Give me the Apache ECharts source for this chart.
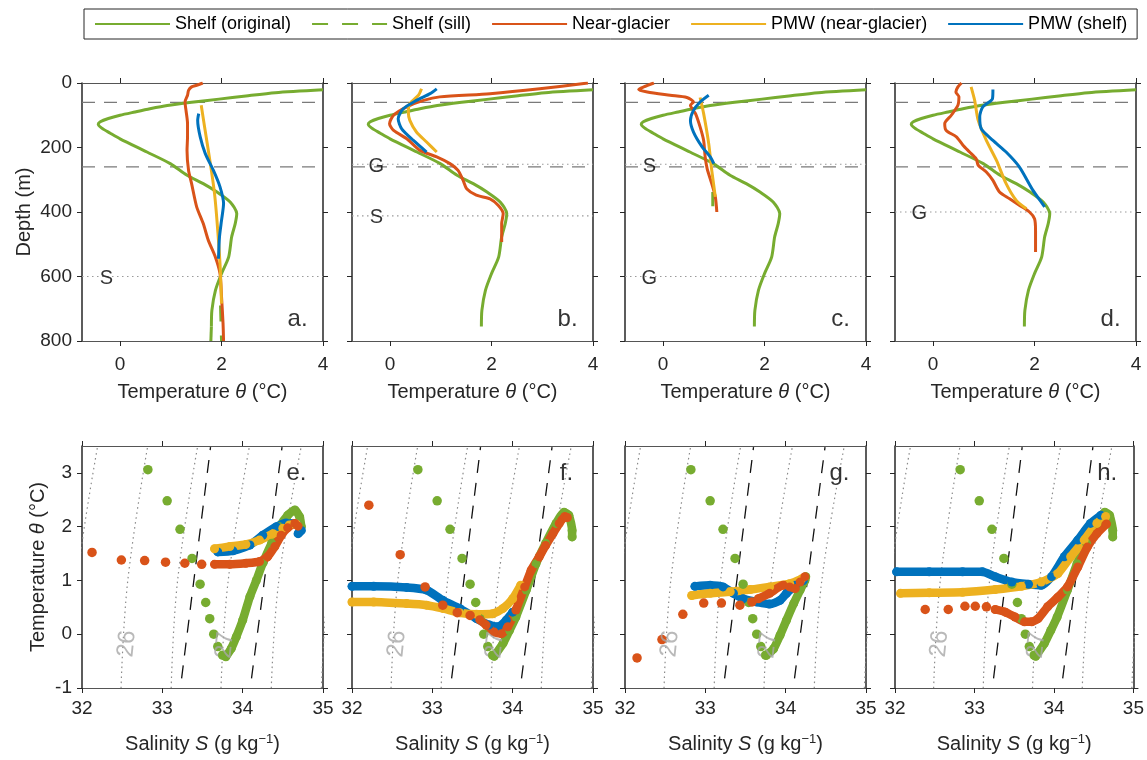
<!DOCTYPE html>
<html><head><meta charset="utf-8">
<script src="https://cdn.jsdelivr.net/npm/echarts@6/dist/echarts.min.js"></script>
<style>html,body{margin:0;padding:0;background:#fff}#c{width:1147px;height:760px}</style>
</head><body><div id="c"></div>
<script>
// ---------------- DATA ----------------
const seriesNames = ['Shelf (original)','Shelf (sill)','Near-glacier','PMW (near-glacier)','PMW (shelf)'];
const tempTicks = [0, 2, 4];
const depthTicks = [0, 200, 400, 600, 800];
const salTicks = [32, 33, 34, 35];
const thetaTicks = [-1, 0, 1, 2, 3];
const panelLettersTop = ['a.', 'b.', 'c.', 'd.'];
const panelLettersBottom = ['e.', 'f.', 'g.', 'h.'];

// Profiles: [temperature °C, depth m]
const shelfOrig = [[4.0,21],[3.06,30],[2.48,40],[1.95,50],[1.41,60],[0.93,70],[0.59,80],[0.29,90],[0.0,100],[-0.23,110],[-0.39,120],[-0.43,128],[-0.36,140],[-0.2,155],[0,173],[0.53,214],[0.99,250],[1.32,286],[1.64,312],[1.91,338],[2.17,369],[2.30,405],[2.27,436],[2.20,477],[2.14,540],[2.0,591],[1.88,643],[1.81,705],[1.80,755]];
const shelfDeepA = [[1.80,755],[1.79,800]];
const sillA = [[1.98,690],[2.0,800]];
const sillC = [[0.98,338],[0.98,382]];

const nearGlacierA = [[1.63,0],[1.51,7],[1.41,12],[1.35,23],[1.33,38],[1.28,59],[1.30,85],[1.33,126],[1.33,167],[1.32,209],[1.35,271],[1.41,312],[1.51,384],[1.64,436],[1.74,488],[1.88,540],[1.97,591],[2.0,663],[2.03,746],[2.04,800]];
const pmwNearA = [[1.6,69],[1.66,130],[1.78,250],[1.86,340],[1.91,426],[1.97,560],[2.0,684]];
const pmwShelfA = [[1.55,95],[1.53,116],[1.58,167],[1.68,219],[1.84,271],[1.97,322],[2.04,374],[2.0,426],[1.96,477],[1.94,545]];

const nearGlacierB = [[3.9,0],[2.95,18],[1.97,33],[0.98,43],[0.66,54],[0.33,74],[0.07,100],[-0.01,126],[0.07,147],[0.33,173],[0.59,209],[0.92,229],[1.18,250],[1.34,271],[1.44,302],[1.51,328],[1.7,348],[1.97,359],[2.13,379],[2.23,405],[2.2,436],[2.2,493]];
const pmwNearB = [[0.62,18],[0.56,38],[0.39,64],[0.36,90],[0.39,116],[0.52,152],[0.72,183],[0.92,214]];
const pmwShelfB = [[0.92,18],[0.79,33],[0.52,54],[0.26,80],[0.16,111],[0.23,142],[0.46,178],[0.72,214]];

const nearGlacierC = [[-0.18,0],[-0.38,12],[-0.48,20],[-0.31,28],[0.14,38],[0.47,45],[0.6,59],[0.54,69],[0.64,95],[0.73,136],[0.8,178],[0.83,229],[0.87,266],[0.96,312],[1.03,353],[1.06,400]];
const pmwNearC = [[0.73,45],[0.8,95],[0.9,188],[0.96,271],[1.03,353]];
const pmwShelfC = [[0.9,38],[0.73,59],[0.6,85],[0.54,116],[0.6,152],[0.77,198],[0.93,229],[1.0,250]];

const nearGlacierD = [[0.56,0],[0.49,12],[0.45,28],[0.51,43],[0.49,69],[0.36,100],[0.23,126],[0.26,147],[0.46,167],[0.59,193],[0.72,214],[0.85,235],[0.89,255],[1.05,276],[1.18,302],[1.31,338],[1.51,359],[1.7,379],[1.9,400],[2.0,421],[2.02,457],[2.02,524]];
const pmwNearD = [[0.75,12],[0.82,54],[0.89,116],[1.05,178],[1.25,240],[1.44,312],[1.64,364],[1.84,390]];
const pmwShelfD = [[1.18,20],[1.17,49],[0.98,74],[0.92,105],[0.95,142],[1.18,178],[1.44,214],[1.7,260],[1.97,333],[2.2,384]];

// reference depths (m)
const layerDepths = [60, 260];
const sillDepths = [600, 412, 252, null];      // "S"
const glacierDepths = [null, 252, 600, 400];   // "G"

// T-S: [salinity g/kg, temperature °C]
const shelfTSDots = [[32.82,3.06],[33.06,2.48],[33.22,1.95],[33.37,1.41],[33.47,0.93],[33.54,0.59],[33.59,0.29],[33.64,0.0],[33.69,-0.23],[33.75,-0.39]];
const shelfTSRunE = [[33.79,-0.42],[33.86,-0.26],[33.92,-0.05],[34.0,0.26],[34.09,0.70],[34.17,1.0],[34.25,1.32],[34.36,1.69],[34.46,2.0],[34.56,2.21],[34.65,2.31],[34.71,2.18],[34.73,2.0]];
const shelfTSRunFH = [[33.77,-0.41],[33.88,-0.17],[33.96,0.07],[34.04,0.32],[34.17,0.82],[34.29,1.31],[34.41,1.69],[34.54,2.06],[34.64,2.27],[34.70,2.21],[34.74,1.93],[34.74,1.81]];
const shelfTSRunG = [[33.76,-0.39],[33.85,-0.27],[33.93,-0.02],[34.01,0.26],[34.10,0.57],[34.18,0.82],[34.24,1.0],[34.25,1.07]];

const nearTSDotsE = [[32.125,1.52],[32.49,1.38],[32.78,1.37],[33.04,1.34],[33.28,1.32],[33.49,1.30]];
const nearTSRunE = [[33.65,1.30],[33.84,1.30],[34.04,1.32],[34.21,1.35],[34.31,1.44],[34.40,1.63],[34.48,1.84],[34.56,1.98],[34.65,2.06],[34.69,2.01]];
const pmwNearTSE = [[33.65,1.59],[33.84,1.63],[34.04,1.67],[34.21,1.75],[34.38,1.87],[34.5,1.97],[34.58,2.03],[34.67,2.05]];
const pmwShelfTSE = [[33.69,1.53],[33.88,1.55],[34.09,1.66],[34.25,1.84],[34.42,2.0],[34.54,2.07],[34.67,2.05],[34.73,1.93],[34.69,1.87]];

const nearTSDotsF = [[32.21,2.40],[32.6,1.48],[32.91,0.88],[33.13,0.54],[33.31,0.40],[33.47,0.35]];
const nearTSRunF = [[33.59,0.27],[33.67,0.17],[33.77,0.04],[33.86,0.01],[33.94,0.14],[34.04,0.45],[34.15,0.88],[34.23,1.19],[34.33,1.44],[34.41,1.65],[34.50,1.87],[34.58,2.06],[34.65,2.19],[34.68,2.17]];
const pmwNearTSF = [[32.0,0.60],[32.27,0.60],[32.68,0.57],[32.93,0.54],[33.13,0.48],[33.34,0.40],[33.55,0.37],[33.75,0.38],[33.88,0.48],[34.0,0.66],[34.1,0.91]];
const pmwShelfTSF = [[32.0,0.89],[32.27,0.89],[32.68,0.87],[32.93,0.82],[33.13,0.63],[33.34,0.48],[33.55,0.29],[33.71,0.17],[33.82,0.14],[33.92,0.26],[34.0,0.41]];

const nearTSDotsG = [[32.15,-0.44],[32.46,-0.10],[32.72,0.37],[32.98,0.58],[33.2,0.58],[33.43,0.54],[33.58,0.60]];
const nearTSRunG = [[33.66,0.66],[33.80,0.76],[33.97,0.91],[34.05,0.88],[34.12,0.85],[34.18,0.97],[34.24,1.07]];
const pmwNearTSG = [[32.83,0.72],[33.06,0.76],[33.31,0.79],[33.56,0.83],[33.80,0.88],[34.05,0.94],[34.2,1.03]];
const pmwShelfTSG = [[32.87,0.89],[33.06,0.91],[33.22,0.88],[33.35,0.76],[33.47,0.66],[33.64,0.6],[33.80,0.56],[33.93,0.63],[34.01,0.76],[34.12,0.91],[34.22,1.0]];

const nearTSDotsH = [[32.38,0.46],[32.67,0.46],[32.88,0.52],[33.01,0.52],[33.15,0.51]];
const nearTSRunH = [[33.26,0.46],[33.39,0.41],[33.51,0.32],[33.63,0.23],[33.72,0.23],[33.80,0.29],[33.92,0.51],[34.05,0.69],[34.17,0.88],[34.30,1.25],[34.42,1.62],[34.54,1.87],[34.66,2.05]];
const pmwNearTSH = [[32.07,0.76],[32.43,0.77],[32.85,0.78],[33.26,0.83],[33.59,0.89],[33.84,0.97],[34.05,1.13],[34.21,1.44],[34.38,1.75],[34.54,2.06],[34.65,2.19]];
const pmwShelfTSH = [[32.02,1.16],[32.43,1.16],[32.85,1.16],[33.1,1.16],[33.26,1.07],[33.47,0.97],[33.68,0.93],[33.84,0.91],[33.97,1.07],[34.13,1.44],[34.30,1.75],[34.46,2.06],[34.59,2.21]];

// isopycnals (sigma 25.5 ... 28)
const isoLabels = ['26', '27'];
const isoLines = [
  [[31.86,-1],[31.94,1],[32.195,3.5]],
  [[32.486,-1],[32.57,1],[32.818,3.5]],
  [[33.11,-1],[33.19,1],[33.44,3.5]],
  [[33.73,-1],[33.82,1],[34.085,3.5]],
  [[34.356,-1],[34.45,1],[34.73,3.5]],
  [[34.98,-1],[35.07,1],[35.33,3.5]]
];
// meltwater mixing lines (dashed)
const gadeLines = [[[33.24,-0.82],[33.60,3.48]], [[34.11,-0.82],[34.49,3.48]]];

// ---------------- BUILD ----------------
const FONT = '"Liberation Sans", Arial, Helvetica, sans-serif';
const TXT = '#262626';
const COL = {shelf:'#77AC30', near:'#D95319', pmwNear:'#EDB120', pmwShelf:'#0072BD'};
const grids = [], xAxis = [], yAxis = [], series = [];
const W = 241, lefts = [82, 352, 625, 895];

const nameRich = {
  a: {fontSize: 20, fontFamily: FONT, color: TXT},
  i: {fontSize: 20, fontFamily: FONT, color: TXT, fontStyle: 'italic'},
  s: {fontSize: 13, fontFamily: FONT, color: TXT, padding: [0, 0, 10, 0]}
};
const nameStyle = {color: TXT, fontSize: 20, fontFamily: FONT, rich: nameRich};

function addPanel(gi, left, top, height, o) {
  grids.push({left: left, top: top, width: W, height: height});
  const xb = {type: 'value', gridIndex: gi, min: o.xmin, max: o.xmax, splitLine: {show: false},
    axisLine: {show: true, onZero: false, lineStyle: {color: '#555', width: 1}},
    axisTick: {show: true, inside: false, length: 5, customValues: o.xticks, lineStyle: {color: TXT, width: 1}}};
  xAxis.push(Object.assign({}, xb, {position: 'bottom',
    axisLabel: {show: true, customValues: o.xticks, margin: o.xmargin, color: TXT, fontSize: 19, fontFamily: FONT},
    name: o.xname, nameLocation: 'middle', nameGap: o.xgap, nameTextStyle: nameStyle}));
  xAxis.push(Object.assign({}, xb, {position: 'top', axisLabel: {show: false}}));
  const yb = {type: 'value', gridIndex: gi, min: o.ymin, max: o.ymax, inverse: o.inverse, splitLine: {show: false},
    axisLine: {show: true, onZero: false, lineStyle: {color: TXT, width: 1.5}},
    axisTick: {show: true, inside: false, length: 5, customValues: o.yticks, lineStyle: {color: TXT, width: 1}}};
  yAxis.push(Object.assign({}, yb, {position: 'left',
    axisLabel: {show: o.showY, customValues: o.yticks, margin: 10, color: TXT, fontSize: 19, fontFamily: FONT},
    name: o.showY ? o.yname : '', nameLocation: 'middle', nameGap: o.ygap, nameTextStyle: nameStyle}));
  yAxis.push(Object.assign({}, yb, {position: 'right', axisLabel: {show: false}}));
}

function S(gi, extra) { return Object.assign({xAxisIndex: 2*gi, yAxisIndex: 2*gi, animation: false, silent: true}, extra); }
function refLine(gi, data, color, width, type, z, smooth) {
  series.push(S(gi, {type: 'line', data: data, symbol: 'none', z: z || 1, smooth: smooth || false,
    lineStyle: {color: color, width: width, type: type}}));
}
function prof(gi, name, data, color, dashed) {
  series.push(S(gi, {type: 'line', name: name, data: data, symbol: 'none', z: 3, smooth: 0.25,
    itemStyle: {color: color},
    lineStyle: {color: color, width: 3, type: dashed ? [16, 14] : 'solid', cap: 'butt', join: 'round'}}));
}
function run(gi, name, data, color) {
  series.push(S(gi, {type: 'line', name: name, data: data, symbol: 'circle', symbolSize: 9, showAllSymbol: true, smooth: 0.2, z: 4,
    itemStyle: {color: color}, lineStyle: {color: color, width: 8.5, cap: 'round', join: 'round'}}));
}
function dots(gi, name, data, color) {
  series.push(S(gi, {type: 'scatter', name: name, data: data, symbol: 'circle', symbolSize: 9.5, z: 4, itemStyle: {color: color, opacity: 1}}));
}
function texts(gi, items, style) {
  series.push(S(gi, {type: 'scatter', symbol: 'circle', symbolSize: 2, itemStyle: {color: 'rgba(0,0,0,0)'}, z: 20, zlevel: 1,
    labelLayout: {hideOverlap: false},
    data: items.map(t => ({value: [t[0], t[1]], label: Object.assign({show: true, position: 'inside', formatter: t[2]}, style)}))}));
}

// top panels
const tempName = '{a|Temperature }{i|θ}{a| (°C)}';
const topData = [
  {near: nearGlacierA, pn: pmwNearA, ps: pmwShelfA, sill: sillA},
  {near: nearGlacierB, pn: pmwNearB, ps: pmwShelfB, sill: null},
  {near: nearGlacierC, pn: pmwNearC, ps: pmwShelfC, sill: sillC},
  {near: nearGlacierD, pn: pmwNearD, ps: pmwShelfD, sill: null}
];
for (let i = 0; i < 4; i++) {
  addPanel(i, lefts[i], 83, 258, {xmin: -0.75, xmax: 4, xticks: tempTicks, xmargin: 14, xname: tempName, xgap: 41,
    ymin: 0, ymax: 800, inverse: true, yticks: depthTicks, showY: i === 0, yname: '{a|Depth (m)}', ygap: 48});
  layerDepths.forEach(d => refLine(i, [[-0.75, d], [4, d]], '#7a7a7a', 1.2, [13, 9], 1));
  const marks = [];
  if (sillDepths[i] !== null) { refLine(i, [[-0.75, sillDepths[i]], [4, sillDepths[i]]], '#9a9a9a', 1.2, [1.5, 3.5], 1); marks.push([-0.27, sillDepths[i] + 6, 'S']); }
  if (glacierDepths[i] !== null) { refLine(i, [[-0.75, glacierDepths[i]], [4, glacierDepths[i]]], '#9a9a9a', 1.2, [1.5, 3.5], 1); marks.push([-0.27, glacierDepths[i] + 6, 'G']); }
  const td = topData[i];
  prof(i, seriesNames[0], shelfOrig, COL.shelf, false);
  if (i === 0) prof(i, seriesNames[0], shelfDeepA, COL.shelf, false);
  if (td.sill) prof(i, seriesNames[1], td.sill, COL.shelf, true);
  prof(i, seriesNames[2], td.near, COL.near, false);
  prof(i, seriesNames[3], td.pn, COL.pmwNear, false);
  prof(i, seriesNames[4], td.ps, COL.pmwShelf, false);
  texts(i, marks, {fontSize: 20, fontFamily: FONT, color: '#000'});
  texts(i, [[3.5, 732, panelLettersTop[i]]], {fontSize: 24, fontFamily: FONT, color: '#000'});
}

// bottom panels
const salName = '{a|Salinity }{i|S}{a| (g kg}{s|−1}{a|)}';
const tsData = [
  {green: shelfTSRunE, nd: nearTSDotsE, nr: nearTSRunE, pn: pmwNearTSE, ps: pmwShelfTSE},
  {green: shelfTSRunFH, nd: nearTSDotsF, nr: nearTSRunF, pn: pmwNearTSF, ps: pmwShelfTSF},
  {green: shelfTSRunG, nd: nearTSDotsG, nr: nearTSRunG, pn: pmwNearTSG, ps: pmwShelfTSG},
  {green: shelfTSRunFH, nd: nearTSDotsH, nr: nearTSRunH, pn: pmwNearTSH, ps: pmwShelfTSH}
];
for (let i = 0; i < 4; i++) {
  const gi = 4 + i;
  addPanel(gi, lefts[i], 446, 242, {xmin: 32, xmax: 35, xticks: salTicks, xmargin: 11, xname: salName, xgap: 45,
    ymin: -1, ymax: 3.5, inverse: false, yticks: thetaTicks, showY: i === 0, yname: tempName, ygap: 34});
  isoLines.forEach(l => refLine(gi, l, '#8a8a8a', 1.2, [1.5, 3.5], 1, 0.4));
  gadeLines.forEach(l => refLine(gi, l, '#111', 1.3, [13, 10], 1));
  const d = tsData[i];
  dots(gi, seriesNames[0], shelfTSDots, COL.shelf);
  run(gi, seriesNames[0], d.green, COL.shelf);
  run(gi, seriesNames[4], d.ps, COL.pmwShelf);
  run(gi, seriesNames[3], d.pn, COL.pmwNear);
  dots(gi, seriesNames[2], d.nd, COL.near);
  run(gi, seriesNames[2], d.nr, COL.near);
  texts(gi, [[32.56, -0.18, isoLabels[0]], [33.78, -0.2, isoLabels[1]]], {fontSize: 24, fontFamily: FONT, color: '#a8a8a8', rotate: 84});
  texts(gi, [[34.67, 3.0, panelLettersBottom[i]]], {fontSize: 24, fontFamily: FONT, color: '#000'});
}

const chart = echarts.init(document.getElementById('c'), null, {renderer: 'canvas'});
chart.setOption({
  backgroundColor: '#fff',
  animation: false,
  legend: {
    data: seriesNames, left: 84, top: 9, orient: 'horizontal',
    itemWidth: 75, itemHeight: 14, itemGap: 20, padding: [6, 10],
    borderColor: TXT, borderWidth: 1, selectedMode: false,
    itemStyle: {opacity: 0},
    textStyle: {fontSize: 18, fontFamily: FONT, color: '#000'}
  },
  grid: grids, xAxis: xAxis, yAxis: yAxis, series: series
});
</script></body></html>
